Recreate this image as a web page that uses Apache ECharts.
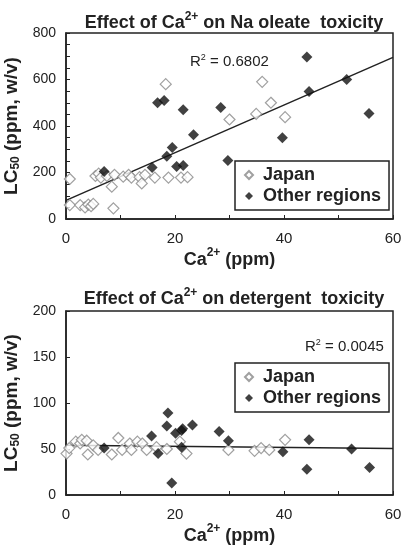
<!DOCTYPE html>
<html>
<head>
<meta charset="utf-8">
<script src="https://cdn.jsdelivr.net/npm/echarts@6/dist/echarts.min.js"></script>
<style>
  html, body { margin: 0; padding: 0; background: #fff; }
  #chart { width: 401px; height: 545px; }
</style>
</head>
<body>
<div id="chart"></div>
<script>
// Na oleate panel: [Ca2+ ppm, LC50]
const japanOleate = [
  [0.7, 172], [0.7, 60], [2.6, 60], [3.5, 50], [4.1, 62], [4.6, 55], [5.0, 65], [8.7, 46],
  [5.4, 185], [6.0, 195], [6.4, 178], [7.5, 185], [8.4, 139], [8.9, 190], [10.5, 182],
  [11.5, 190], [12.0, 178], [13.5, 180], [13.9, 153], [14.5, 190], [16.3, 178], [18.8, 178],
  [21.1, 178], [22.3, 180], [18.3, 580], [36.0, 590], [37.6, 500], [30.0, 428], [34.9, 452],
  [40.2, 438]
]
const otherOleate = [
  [7.0, 204], [15.8, 222], [16.8, 500], [18.0, 510], [18.5, 270], [19.5, 308], [20.3, 226],
  [21.5, 230], [21.5, 470], [23.4, 362], [28.4, 480], [29.7, 252], [39.7, 350], [44.2, 697],
  [44.6, 548], [51.5, 600], [55.6, 454]
]
const trendOleate = [[0, 80], [60, 695]]

// detergent panel
const japanDetergent = [
  [0.1, 45], [0.6, 51], [1.8, 58], [2.6, 56], [2.9, 60], [3.8, 59], [4.0, 44], [5.0, 54],
  [5.9, 49], [8.4, 44], [9.6, 62], [10.3, 49], [11.7, 56], [12.0, 49], [13.1, 58], [14.0, 56],
  [14.8, 49], [16.6, 52], [18.5, 50], [20.9, 58], [22.1, 45], [29.8, 49], [34.6, 48],
  [35.8, 51], [37.3, 49], [40.2, 60]
]
const otherDetergent = [
  [7.0, 51], [15.7, 64], [16.9, 45], [18.7, 89], [18.5, 75], [19.4, 13], [20.1, 67],
  [21.2, 70], [21.4, 72], [21.2, 52], [23.2, 76], [28.1, 69], [29.8, 59], [39.8, 47],
  [44.2, 28], [44.6, 60], [52.4, 50], [55.7, 30]
]
const trendDetergent = [[0, 54], [60, 50.5]]

const r2Labels = ['0.6802', '0.0045']
const legendNames = ['Japan', 'Other regions']

const FONT = 'Liberation Sans, Arial, sans-serif'
const INK = '#222'

const chart = echarts.init(document.getElementById('chart'), null, { renderer: 'canvas' })

function makeX(gridIndex) {
  return {
    gridIndex,
    type: 'value',
    min: 0,
    max: 60,
    interval: 10,
    name: '{b|Ca}{sup|2+}{b| (ppm)}',
    nameLocation: 'middle',
    nameGap: 27,
    nameTextStyle: {
      rich: {
        b: { fontFamily: FONT, fontWeight: 'bold', fontSize: 18, color: INK },
        sup: { fontFamily: FONT, fontWeight: 'bold', fontSize: 12, color: INK, verticalAlign: 'top', lineHeight: 26 }
      }
    },
    axisLine: { show: true, lineStyle: { color: INK, width: 1.5 } },
    axisTick: { show: true, inside: true, length: 4, lineStyle: { color: INK } },
    axisLabel: {
      margin: 12,
      fontFamily: FONT,
      fontSize: 15,
      color: INK,
      formatter: v => (v % 20 === 0 ? String(v) : '')
    },
    splitLine: { show: false }
  }
}

function makeY(gridIndex, max, interval, labelStep) {
  return {
    gridIndex,
    type: 'value',
    min: 0,
    max,
    interval,
    name: '{b|LC}{sub|50}{b| (ppm, w/v)}',
    nameLocation: 'middle',
    nameRotate: 90,
    nameGap: 38,
    nameTextStyle: {
      rich: {
        b: { fontFamily: FONT, fontWeight: 'bold', fontSize: 19, color: INK },
        sub: { fontFamily: FONT, fontWeight: 'bold', fontSize: 12, color: INK, verticalAlign: 'bottom', lineHeight: 16 }
      }
    },
    axisLine: { show: true, lineStyle: { color: INK, width: 1.5 } },
    axisTick: { show: true, inside: true, length: 4, lineStyle: { color: INK } },
    axisLabel: {
      margin: 10,
      fontFamily: FONT,
      fontSize: 14,
      color: INK,
      formatter: v => (v % labelStep === 0 ? String(v) : '')
    },
    splitLine: { show: false }
  }
}

function makeTitle(text, top) {
  return {
    text: '{b|Effect of Ca}{sup|2+}{b| ' + text + '}',
    left: 229,
    top,
    textAlign: 'center',
    textStyle: {
      rich: {
        b: { fontFamily: FONT, fontWeight: 'bold', fontSize: 18, color: INK },
        sup: { fontFamily: FONT, fontWeight: 'bold', fontSize: 12, color: INK, verticalAlign: 'top', lineHeight: 24 }
      }
    }
  }
}

function makeR2(value, left, top) {
  return {
    text: '{b|R}{sup|2}{b| = ' + value + '}',
    left,
    top,
    textStyle: {
      fontWeight: 'normal',
      rich: {
        b: { fontFamily: FONT, fontWeight: 'normal', fontSize: 15, color: INK },
        sup: { fontFamily: FONT, fontWeight: 'normal', fontSize: 9, color: INK, verticalAlign: 'top', lineHeight: 18 }
      }
    }
  }
}

function makeLegend(top) {
  return {
    data: legendNames,
    orient: 'vertical',
    left: 235,
    top,
    padding: [5, 8, 5, 9],
    itemGap: 3,
    itemWidth: 8,
    itemHeight: 8,
    backgroundColor: '#fff',
    borderColor: INK,
    borderWidth: 1.5,
    borderRadius: 0,
    textStyle: { fontFamily: FONT, fontWeight: 'bold', fontSize: 18, color: INK, padding: [0, 0, 0, 5] }
  }
}

const openStyle = { color: '#fff', borderColor: '#888', borderWidth: 1.2 }
const fillStyle = { color: '#111' }

function scatter(name, idx, data, style) {
  return {
    name,
    type: 'scatter',
    xAxisIndex: idx,
    yAxisIndex: idx,
    symbol: 'diamond',
    symbolSize: 11,
    itemStyle: style,
    data,
    z: name === 'Japan' ? 3 : 4
  }
}

function trend(idx, data) {
  return {
    type: 'line',
    xAxisIndex: idx,
    yAxisIndex: idx,
    data,
    symbol: 'none',
    lineStyle: { color: INK, width: 1.5 },
    silent: true,
    z: 2
  }
}

const gridBase = { left: 66, width: 327, show: true, borderColor: INK, borderWidth: 1.5, outerBoundsMode: 'none', containLabel: false }

chart.setOption({
  backgroundColor: '#fff',
  animation: false,
  title: [
    makeTitle('on Na oleate  toxicity', 6),
    makeTitle('on detergent  toxicity', 282),
    makeR2(r2Labels[0], 185, 48),
    makeR2(r2Labels[1], 300, 333)
  ],
  legend: [makeLegend(161), makeLegend(363)],
  grid: [
    Object.assign({}, gridBase, { top: 33, height: 186 }),
    Object.assign({}, gridBase, { top: 311, height: 184 })
  ],
  xAxis: [makeX(0), makeX(1)],
  yAxis: [makeY(0, 800, 50, 200), makeY(1, 200, 50, 50)],
  series: [
    trend(0, trendOleate),
    scatter('Japan', 0, japanOleate, openStyle),
    scatter('Other regions', 0, otherOleate, fillStyle),
    trend(1, trendDetergent),
    scatter('Japan', 1, japanDetergent, openStyle),
    scatter('Other regions', 1, otherDetergent, fillStyle)
  ]
})
</script>
</body>
</html>
